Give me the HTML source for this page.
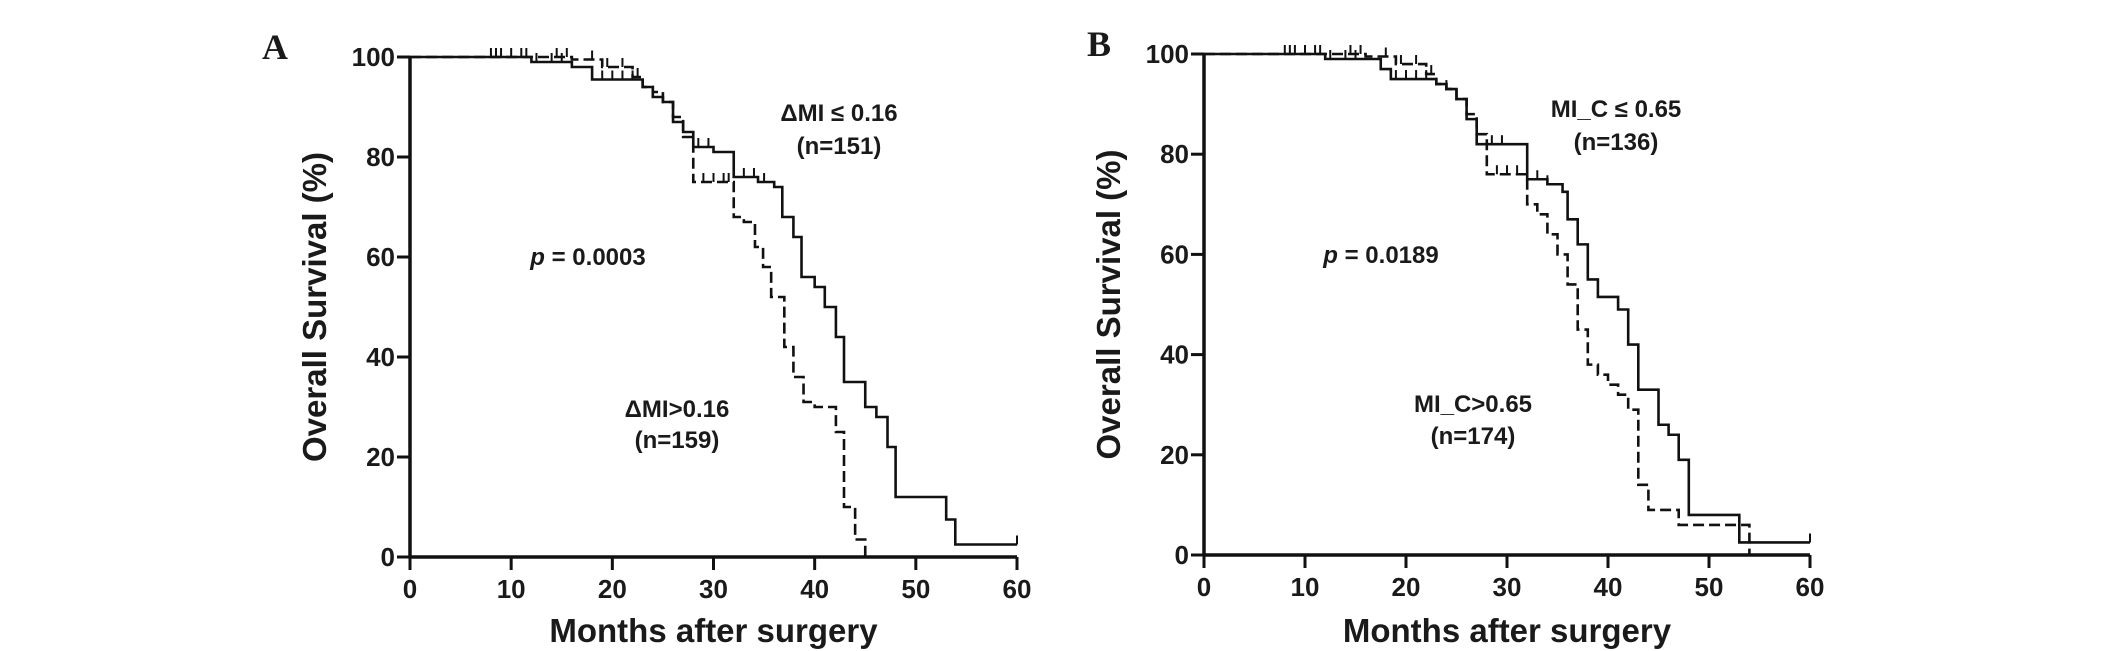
<!DOCTYPE html>
<html><head><meta charset="utf-8"><style>
body{margin:0;background:#fff;}
svg{display:block;}
text{font-family:"Liberation Sans",Arial,sans-serif;font-weight:bold;fill:#1a1a1a;}
</style></head><body>
<svg id="fig" width="2126" height="651" viewBox="0 0 2126 651"></svg>
<script>
const xTicks=[0,10,20,30,40,50,60];
const yTicks=[0,20,40,60,80,100];
// Panel A
const aSolidT=[0,12,16,18,23,24,25,26,27,28,30,32,34.4,36,36.8,37.9,38.7,40,41,42.1,42.9,45,46.1,47.2,48,53,53.9,60];
const aSolidS=[100,99,98,95.5,94,92,91,87,85,82,81,76,75,74,68,64,56,54,50,44,35,30,28,22,12,7.5,2.5,2.5];
const aDashT=[0,16,19,22,23,24,25,26,27,28,32,33,34.1,34.9,35.7,37,37.9,38.9,40,42.1,42.9,44,45];
const aDashS=[100,99.5,98,96,94,93,91,88,84,75,68,67,62,58,52,42,36,31,30,25,10,3.5,0];
const aSolidCens=[8,9,11,12.5,14,15,19,20,21,22,24,28.5,29.5,33,34,35,60];
const aDashCens=[8.5,10,11.5,14.5,15.5,18,19.5,21,22.5,29,30,31,31.5];
// Panel B
const bSolidT=[0,12,17.5,18.5,23,24,25,26,27,32,34,35.5,36,37,38,39,41,42,43,45,46,47,48,53,60];
const bSolidS=[100,99,97,95,94,93,91,87,82,75,74,72.5,67,62,55,51.5,49,42,33,26,24,19,8,2.5,2.5];
const bDashT=[0,16,19,22,23,24,25,26,27,28,32,33,34,35,36,37,38,39,40,41,42,43,44,47,54];
const bDashS=[100,99.5,98,96,94,93,91,88,84,76,70,68,64,60,54,45,38,36,34,32,29,14,9,6,0];
const bSolidCens=[8,9,11,12.5,14,15,19,20,21,22,24,28.5,29.5,33,34,60];
const bDashCens=[8.5,10,11.5,14.5,15.5,18,19.5,21,22.5,29,30,31];

const NS="http://www.w3.org/2000/svg";
const svg=document.getElementById('fig');
function mk(tag,attrs,parent){const e=document.createElementNS(NS,tag);for(const k in attrs)e.setAttribute(k,attrs[k]);(parent||svg).appendChild(e);return e;}

function panel(cfg){
  const g=mk('g',{});
  
  
  const X=t=>cfg.x0+(cfg.x1-cfg.x0)*t/60;
  const Y=s=>cfg.y0+(cfg.y100-cfg.y0)*s/100;
  const ya=mk('line',{x1:cfg.x0,y1:Y(100),x2:cfg.x0,y2:cfg.y0+1.5,stroke:'#111','stroke-width':3.5},g);
  
  
  const xa=mk('line',{x1:cfg.x0-1.5,y1:cfg.y0,x2:cfg.x1,y2:cfg.y0,stroke:'#111','stroke-width':3.5},g);
  
  
  yTicks.forEach(v=>{
    mk('line',{x1:cfg.x0-13,y1:Y(v),x2:cfg.x0,y2:Y(v),stroke:'#111','stroke-width':3},g);
    const t=mk('text',{x:cfg.x0-15,y:Y(v)+9,'text-anchor':'end','font-size':26},g);
    t.textContent=v;
    
    
  });
  xTicks.forEach(v=>{
    mk('line',{x1:X(v),y1:cfg.y0,x2:X(v),y2:cfg.y0+13,stroke:'#111','stroke-width':3},g);
    const t=mk('text',{x:X(v),y:cfg.y0+41,'text-anchor':'middle','font-size':26},g);
    t.textContent=v;
    
    
  });
  function curve(T,S,C,dash,nm){
    let d='M'+X(T[0])+' '+Y(S[0]);
    for(let i=1;i<T.length;i++){d+=' H'+X(T[i])+' V'+Y(S[i]);}
    const p=mk('path',{d:d,fill:'none',stroke:'#111','stroke-width':2.6},g);
    if(dash)p.setAttribute('stroke-dasharray','11 5');
    
    
    C.forEach(c=>{
      let s=S[0];for(let i=0;i<T.length;i++){if(T[i]<=c)s=S[i];}
      const m=mk('line',{x1:X(c),y1:Y(s)-9,x2:X(c),y2:Y(s),stroke:'#111','stroke-width':2},g);
      
      
    });
  }
  curve(cfg.st,cfg.ss,cfg.sc,false,'solid-curve');
  curve(cfg.dt,cfg.ds,cfg.dc,true,'dashed-curve');
  const lbl=mk('text',{x:cfg.lx,y:cfg.y100+2,'font-size':36,style:'font-family:"Liberation Serif",serif'},g);
  lbl.textContent=cfg.letter;
  
  
  const xt=mk('text',{x:(cfg.x0+cfg.x1)/2,y:642,'text-anchor':'middle','font-size':33},g);
  xt.textContent='Months after surgery';
  
  
  const cy=(cfg.y0+cfg.y100)/2;
  const yt=mk('text',{x:cfg.x0-84,y:cy,'text-anchor':'middle','font-size':33,transform:'rotate(-90 '+(cfg.x0-84)+' '+cy+')'},g);
  yt.textContent='Overall Survival (%)';
  
  
  cfg.notes.forEach(n=>{
    const t=mk('text',{x:n[0],y:n[1],'text-anchor':'middle','font-size':24},g);
    t.innerHTML=n[2];
    
    
  });
}
panel({name:'panel-a',letter:'A',lx:262,x0:410,x1:1017,y0:557,y100:57,
  st:aSolidT,ss:aSolidS,sc:aSolidCens,dt:aDashT,ds:aDashS,dc:aDashCens,
  notes:[[839,121,'ΔMI ≤ 0.16','group-low-label'],[839,154,'(n=151)','group-low-n'],
         [588,265,'<tspan font-style="italic">p</tspan> = 0.0003','p-value'],
         [677,417,'ΔMI&gt;0.16','group-high-label'],[677,448,'(n=159)','group-high-n']]});
panel({name:'panel-b',letter:'B',lx:1087,x0:1204,x1:1810,y0:555,y100:54,
  st:bSolidT,ss:bSolidS,sc:bSolidCens,dt:bDashT,ds:bDashS,dc:bDashCens,
  notes:[[1616,117,'MI_C ≤ 0.65','group-low-label'],[1616,150,'(n=136)','group-low-n'],
         [1381,263,'<tspan font-style="italic">p</tspan> = 0.0189','p-value'],
         [1473,412,'MI_C&gt;0.65','group-high-label'],[1473,444,'(n=174)','group-high-n']]});
</script>
</body></html>
